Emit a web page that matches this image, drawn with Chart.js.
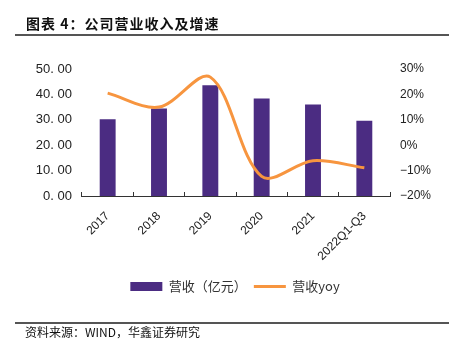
<!DOCTYPE html>
<html>
<head>
<meta charset="utf-8">
<script src="https://cdn.jsdelivr.net/npm/chart.js@4/dist/chart.umd.min.js"></script>
<style>
  body { margin: 0; background: #fff; }
  #wrap { position: relative; width: 460px; height: 348px; font-family: "Noto Sans CJK SC", "Noto Sans", sans-serif; }
  #box { position: absolute; left: 0; top: 0; width: 460px; height: 348px; }
  .title { position: absolute; left: 26px; top: 13px; font-size: 14px; font-weight: bold; color: #111; line-height: 20px; letter-spacing: 1px; }
  .rule { position: absolute; left: 15px; width: 434px; height: 2px; background: #555; }
  .src { position: absolute; left: 25px; top: 323px; font-size: 12px; color: #111; line-height: 18px; }
</style>
</head>
<body>
<div id="wrap">
  <div id="box"><canvas id="chart"></canvas></div>
  <div class="title">图表 4：公司营业收入及增速</div>
  <div class="rule" style="top:34px"></div>
  <div class="rule" style="top:322px"></div>
  <div class="src">资料来源：WIND，华鑫证券研究</div>
</div>
<script>

// data

const years = ['2017', '2018', '2019', '2020', '2021', '2022Q1-Q3'];
const revenue = [30.2, 34.4, 43.6, 38.4, 36.0, 29.6];   // 营收（亿元）
const revenueYoy = [20.5, 15.0, 26.8, -12.3, -6.1, -8.9]; // %

const purple = '#4b2c82';
const orange = '#f7953f';
const tickFont = 'Liberation Sans, Arial, sans-serif';

const ctx = document.getElementById('chart');

new Chart(ctx, {
  data: {
    labels: years,
    datasets: [
      {
        type: 'line',
        label: '营收yoy',
        data: revenueYoy,
        yAxisID: 'y1',
        borderColor: orange,
        backgroundColor: orange,
        borderWidth: 3,
        pointRadius: 0,
        tension: 0.33,
        order: 0
      },
      {
        type: 'bar',
        label: '营收（亿元）',
        data: revenue,
        yAxisID: 'y',
        backgroundColor: purple,
        barPercentage: 0.31,
        categoryPercentage: 1,
        order: 1
      }
    ]
  },
  options: {
    responsive: true,
    maintainAspectRatio: false,
    animation: false,
    layout: { padding: { top: 69, left: 30, right: 20, bottom: 45 } },
    plugins: {
      tooltip: { enabled: false },
      legend: {
        position: 'bottom',
        reverse: true,
        labels: {
          usePointStyle: true,
          pointStyleWidth: 32,
          boxHeight: 9,
          padding: 7,
          color: '#333',
          font: { family: '"Noto Sans CJK SC", sans-serif', size: 13 },
          generateLabels: chart => {
            const items = Chart.defaults.plugins.legend.labels.generateLabels(chart);
            items.forEach(it => {
              if (it.text === '营收yoy') {
                it.pointStyle = 'line';
                it.lineWidth = 3;
                it.strokeStyle = orange;
              } else {
                it.pointStyle = 'rect';
                it.lineWidth = 0;
              }
            });
            return items;
          }
        }
      }
    },
    scales: {
      x: {
        offset: true,
        afterFit: s => { s.height = 77; },
        border: { display: true, color: '#333', width: 1 },
        grid: { display: true, drawOnChartArea: false, color: '#333', tickLength: -4, offset: true },
        ticks: {
          color: '#222',
          minRotation: 45,
          maxRotation: 45,
          padding: 17,
          font: { family: tickFont, size: 12 }
        }
      },
      y: {
        position: 'left',
        min: 0,
        max: 50,
        afterFit: s => { s.width = 52; },
        border: { display: false },
        grid: { display: false, drawTicks: false },
        ticks: {
          stepSize: 10,
          color: '#222',
          padding: 10,
          font: { family: tickFont, size: 13 },
          callback: v => v.toFixed(2).replace('.', '. ')
        }
      },
      y1: {
        position: 'right',
        min: -20,
        max: 30,
        afterFit: s => { s.width = 50; },
        border: { display: false },
        grid: { display: false, drawTicks: false },
        ticks: {
          stepSize: 10,
          color: '#222',
          padding: 10,
          font: { family: tickFont, size: 12 },
          callback: v => (v < 0 ? '\u2212' + Math.abs(v) : v) + '%'
        }
      }
    }
  }
});
</script>
</body>
</html>
